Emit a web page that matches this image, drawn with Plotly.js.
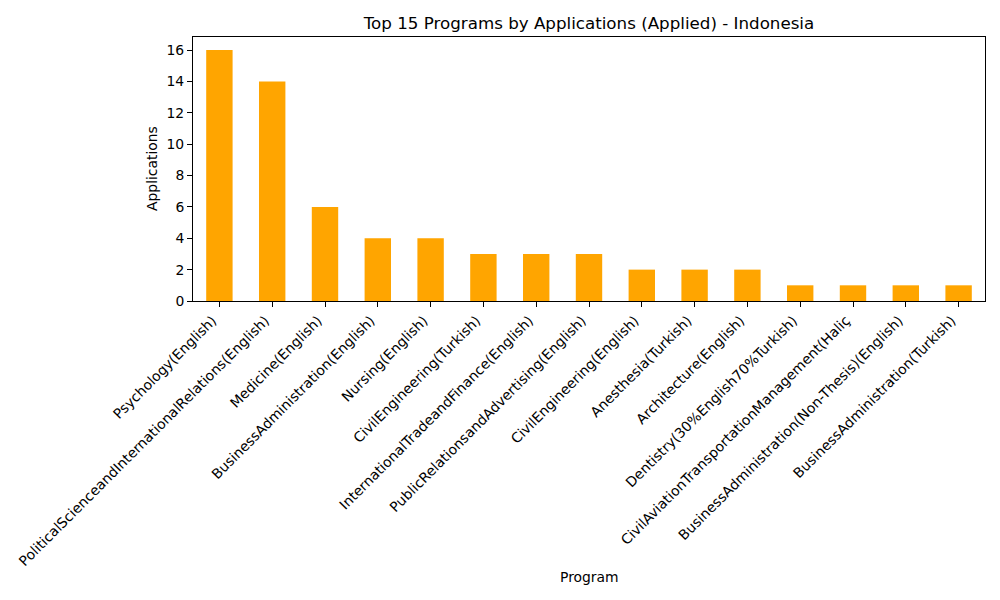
<!DOCTYPE html>
<html><head><meta charset="utf-8">
<script src="https://cdn.plot.ly/plotly-3.0.1.min.js"></script>
<style>body{margin:0}#c{width:1000px;height:600px}</style>
</head><body><div id="c"></div>
<script>
const programs = [
  "Psychology(English)",
  "PoliticalScienceandInternationalRelations(English)",
  "Medicine(English)",
  "BusinessAdministration(English)",
  "Nursing(English)",
  "CivilEngineering(Turkish)",
  "InternationalTradeandFinance(English)",
  "PublicRelationsandAdvertising(English)",
  "CivilEngineering(English)",
  "Anesthesia(Turkish)",
  "Architecture(English)",
  "Dentistry(30%English70%Turkish)",
  "CivilAviationTransportationManagement(Haliç",
  "BusinessAdministration(Non-Thesis)(English)",
  "BusinessAdministration(Turkish)"
];
const applications = [16, 14, 6, 4, 4, 3, 3, 3, 2, 2, 2, 1, 1, 1, 1];
const yTicks = [0, 2, 4, 6, 8, 10, 12, 14, 16];

const font = {family: "DejaVu Sans, sans-serif", color: "#000"};
Plotly.newPlot("c", [{
  type: "bar",
  x: programs,
  y: applications,
  width: 0.5,
  marker: {color: "#FFA500", line: {width: 0}},
  hoverinfo: "x+y"
}], {
  width: 1000, height: 600,
  margin: {l: 193, r: 15, t: 37, b: 299, pad: 0},
  paper_bgcolor: "#fff", plot_bgcolor: "#fff",
  font: Object.assign({size: 13.9}, font),
  showlegend: false,
  title: {text: "Top 15 Programs by Applications (Applied) - Indonesia",
          font: Object.assign({size: 16.7}, font), x: 0.589, xanchor: "center", y: 0.962, yanchor: "middle"},
  xaxis: {
    type: "category", range: [-0.5, 14.5], automargin: false,
    tickangle: -45, ticks: "outside", ticklen: 5, tickwidth: 1, tickcolor: "#000",
    ticklabelshift: -7,
    showline: true, linecolor: "#000", linewidth: 1, mirror: true,
    showgrid: false, zeroline: false,
    tickfont: Object.assign({size: 13.9}, font)
  },
  yaxis: {
    range: [0, 16.83], automargin: false,
    tickvals: yTicks, ticktext: yTicks.map(String),
    ticks: "outside", ticklen: 5, tickwidth: 1, tickcolor: "#000",
    showline: true, linecolor: "#000", linewidth: 1, mirror: true,
    showgrid: false, zeroline: false,
    tickfont: Object.assign({size: 13.9}, font)
  },
  annotations: [
    {text: "Program", xref: "paper", yref: "paper", x: 0.5, y: 0, yshift: -276,
     showarrow: false, xanchor: "center", yanchor: "middle", font: Object.assign({size: 13.9}, font)},
    {text: "Applications", xref: "paper", yref: "paper", x: 0, xshift: -41, y: 0.5,
     textangle: -90, showarrow: false, xanchor: "center", yanchor: "middle", font: Object.assign({size: 13.9}, font)}
  ]
}, {displayModeBar: false});
</script>
</body></html>
